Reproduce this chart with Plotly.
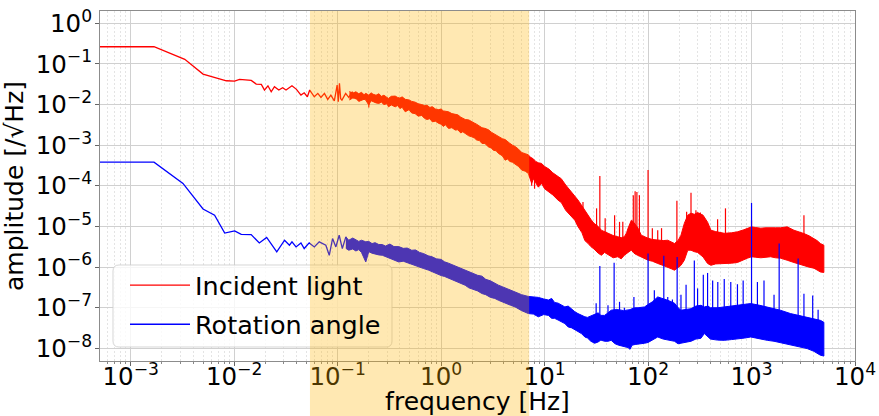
import plotly.graph_objects as go
import math

# ---------------- data ----------------
# thin low-frequency parts (Hz, amplitude)
red_line_f = [5.0e-4, 1.68e-3, 3.33e-3, 5.0e-3, 8.4e-3, 0.0101, 0.01127, 0.01462, 0.01633, 0.0183,
              0.01963, 0.0212, 0.0228, 0.0245, 0.027, 0.0294, 0.0317, 0.0362, 0.040, 0.0442,
              0.0475, 0.051, 0.0537, 0.0595, 0.0643, 0.069, 0.0745, 0.0802, 0.086, 0.0929,
              0.0989, 0.1015, 0.1041, 0.107, 0.110, 0.1195, 0.128, 0.1385, 0.1498, 0.1615]
red_line_a = [0.265, 0.265, 0.130, 0.0564, 0.0386, 0.0379, 0.0418, 0.0394, 0.0320, 0.0315,
              0.0228, 0.0290, 0.0207, 0.0275, 0.0228, 0.0259, 0.0228, 0.0290, 0.0237, 0.0171,
              0.0195, 0.0156, 0.0228, 0.0156, 0.0189, 0.0150, 0.0189, 0.0134, 0.0171, 0.0124,
              0.0302, 0.0117, 0.0333, 0.0140, 0.0129, 0.0189, 0.0150, 0.0207, 0.0142, 0.0178]

blue_line_f = [5.0e-4, 1.68e-3, 3.2e-3, 4.3e-3, 5.0e-3, 6.47e-3, 8.1e-3, 0.0101, 0.0117, 0.0146,
               0.0175, 0.0206, 0.0258, 0.0307, 0.0342, 0.0362, 0.0396, 0.0442, 0.0475, 0.0531,
               0.0595, 0.0664, 0.0769, 0.083, 0.0893, 0.0961, 0.1035, 0.111, 0.120, 0.128]
blue_line_a = [3.84e-4, 3.84e-4, 1.15e-4, 4.45e-5, 2.7e-5, 1.9e-5, 6.9e-6, 7.8e-6, 6.4e-6, 6.3e-6,
               3.94e-6, 5.4e-6, 2.37e-6, 4.6e-6, 3.46e-6, 4.18e-6, 3.15e-6, 3.94e-6, 2.87e-6, 3.94e-6,
               3.15e-6, 4.2e-6, 3.46e-6, 1.96e-6, 5.06e-6, 3.15e-6, 6.1e-6, 2.87e-6, 5.55e-6, 4.0e-6]

# dense noisy parts: upper / lower envelope of the band
red_band_f = [0.13, 0.14, 0.15, 0.16, 0.17, 0.18, 0.187, 0.2, 0.21, 0.22, 0.235, 0.25, 0.265, 0.28,
              0.3, 0.31, 0.33, 0.36, 0.38, 0.40, 0.42, 0.45, 0.49, 0.52, 0.56, 0.6, 0.65, 0.69,
              0.73, 0.78, 0.82, 0.88, 0.95, 1.0, 1.05, 1.1, 1.18, 1.27, 1.37, 1.45, 1.55, 1.62,
              1.71, 1.85, 1.98, 2.1, 2.2, 2.35, 2.48, 2.65, 2.87, 3.05, 3.2, 3.4, 3.58, 3.9,
              4.16, 4.4, 4.6, 4.9, 5.19, 5.6, 6.01, 6.5, 6.97, 7.2, 7.5, 7.8, 8.2, 8.7, 9.36,
              10.0, 11.0, 12.0, 13.5, 14.5, 16.0, 17.5, 19.6, 21.0, 23.0, 24.5, 26.4, 28, 30.0,
              33, 35.4, 38, 41, 46, 51, 55, 59, 62, 64, 67, 69, 72, 75, 80, 86, 93, 100, 110,
              124, 140, 155, 170, 180, 195, 208, 224, 242, 260, 280, 301, 320, 340, 376, 405,
              450, 545, 640, 731, 830, 912, 1000, 1100, 1230, 1380, 1530, 1700, 1910, 2210,
              2570, 2900, 3210, 3600, 4010, 4300, 4630, 5000]
red_band_hi = [2.1e-2, 1.9e-2, 2.07e-2, 1.85e-2, 2.0e-2, 1.75e-2, 1.89e-2, 1.71e-2, 1.95e-2, 1.8e-2,
               1.7e-2, 1.85e-2, 1.6e-2, 1.7e-2, 1.5e-2, 1.42e-2, 1.6e-2, 1.62e-2, 1.5e-2, 1.45e-2,
               1.55e-2, 1.35e-2, 1.3e-2, 1.2e-2, 1.15e-2, 1.05e-2, 1.0e-2, 9.5e-3, 9.6e-3, 8.5e-3,
               8.9e-3, 7.8e-3, 7.5e-3, 7.8e-3, 7.0e-3, 6.8e-3, 6.65e-3, 6.0e-3, 5.7e-3, 5.6e-3,
               4.9e-3, 4.7e-3, 4.3e-3, 4.2e-3, 3.9e-3, 3.5e-3, 3.3e-3, 3.0e-3, 2.7e-3, 2.6e-3,
               2.4e-3, 2.1e-3, 1.95e-3, 1.8e-3, 1.65e-3, 1.45e-3, 1.38e-3, 1.2e-3, 1.12e-3, 1.0e-3,
               9.3e-4, 8.0e-4, 6.6e-4, 6.2e-4, 5.8e-4, 5.2e-4, 4.9e-4, 4.6e-4, 4.0e-4, 3.7e-4,
               3.56e-4, 3.0e-4, 2.6e-4, 2.1e-4, 1.7e-4, 1.5e-4, 1.05e-4, 8.0e-5, 5.5e-5, 4.5e-5,
               3.2e-5, 2.5e-5, 1.8e-5, 1.5e-5, 1.2e-5, 1.0e-5, 8.1e-6, 7.5e-6, 6.7e-6, 6.0e-6,
               5.6e-6, 5.3e-6, 5.6e-6, 7.0e-6, 9.0e-6, 1.2e-5, 1.43e-5, 1.3e-5, 1.15e-5, 9.1e-6,
               6.1e-6, 5.5e-6, 5.15e-6, 4.8e-6, 4.6e-6, 4.5e-6, 4.6e-6, 4.2e-6, 3.81e-6, 4.5e-6,
               6.1e-6, 1.19e-5, 1.9e-5, 2.13e-5, 2.0e-5, 2.2e-5, 2.05e-5, 1.9e-5, 1.28e-5, 8.1e-6,
               7.5e-6, 6.8e-6, 7.0e-6, 7.4e-6, 8.2e-6, 9.1e-6, 9.8e-6, 9.4e-6, 9.1e-6, 9.3e-6,
               9.5e-6, 9.3e-6, 9.3e-6, 9.8e-6, 8.1e-6, 7.4e-6, 6.7e-6, 5.9e-6, 5.15e-6, 4.5e-6,
               3.81e-6, 3.46e-6]
red_band_lo = [1.3e-2, 1.45e-2, 1.42e-2, 1.2e-2, 1.25e-2, 1.35e-2, 1.29e-2, 9.7e-3, 1.25e-2, 1.2e-2,
               1.1e-2, 1.07e-2, 1.15e-2, 1.0e-2, 1.05e-2, 8.8e-3, 9.8e-3, 8.8e-3, 9.5e-3, 8.0e-3,
               8.6e-3, 6.65e-3, 7.5e-3, 6.2e-3, 6.0e-3, 5.2e-3, 5.4e-3, 4.6e-3, 4.3e-3, 4.5e-3,
               3.77e-3, 3.9e-3, 3.44e-3, 3.3e-3, 2.9e-3, 3.2e-3, 2.59e-3, 2.7e-3, 2.36e-3, 2.4e-3,
               2.0e-3, 2.15e-3, 1.95e-3, 1.7e-3, 1.61e-3, 1.5e-3, 1.35e-3, 1.3e-3, 1.11e-3, 1.1e-3,
               9.1e-4, 8.6e-4, 7.5e-4, 7.3e-4, 6.3e-4, 5.5e-4, 4.29e-4, 4.6e-4, 4.0e-4, 3.8e-4,
               3.4e-4, 3.0e-4, 2.44e-4, 2.3e-4, 2.02e-4, 1.6e-4, 1.15e-4, 1.5e-4, 1.2e-4, 9.3e-5,
               1.15e-4, 8.5e-5, 7.0e-5, 6.0e-5, 4.45e-5, 3.9e-5, 2.5e-5, 2.0e-5, 1.43e-5, 1.0e-5,
               7.0e-6, 4.5e-6, 3.8e-6, 3.2e-6, 2.8e-6, 2.2e-6, 1.96e-6, 2.3e-6, 2.0e-6, 1.7e-6,
               1.8e-6, 1.6e-6, 1.96e-6, 2.1e-6, 2.3e-6, 2.5e-6, 2.61e-6, 2.3e-6, 2.1e-6, 1.96e-6,
               1.78e-6, 1.6e-6, 1.48e-6, 1.4e-6, 1.23e-6, 1.1e-6, 1.0e-6, 9e-7, 8.4e-7, 1.0e-6,
               1.11e-6, 1.48e-6, 2.61e-6, 2.61e-6, 2.4e-6, 2.3e-6, 2.0e-6, 1.78e-6, 1.23e-6, 1.11e-6,
               1.2e-6, 1.23e-6, 1.25e-6, 1.3e-6, 1.5e-6, 1.66e-6, 1.8e-6, 1.75e-6, 1.7e-6, 1.75e-6,
               1.8e-6, 1.7e-6, 1.66e-6, 1.48e-6, 1.3e-6, 1.2e-6, 1.11e-6, 1.0e-6, 9.4e-7, 8.5e-7,
               7.6e-7, 7.4e-7]

blue_band_f = [0.12, 0.128, 0.14, 0.15, 0.16, 0.17, 0.187, 0.2, 0.215, 0.23, 0.25, 0.27, 0.29, 0.32,
               0.35, 0.39, 0.43, 0.47, 0.52, 0.566, 0.62, 0.68, 0.75, 0.817, 0.9, 1.0, 1.08, 1.18,
               1.28, 1.4, 1.55, 1.71, 1.85, 2.05, 2.25, 2.48, 2.7, 3.0, 3.3, 3.58, 3.9, 4.3, 4.7,
               5.19, 6.0, 6.97, 7.8, 8.7, 9.8, 10.9, 11.7, 12.5, 13.5, 15.7, 16.9, 18.3, 19.6, 21,
               22.7, 24.5, 26, 28, 30.5, 32.9, 35, 38, 41, 44, 48, 52, 58, 64, 67, 70, 75, 80,
               92.5, 100, 110, 124, 140, 155, 180, 195, 208, 230, 260, 290, 324, 350, 380, 400,
               470, 545, 640, 750, 860, 983, 1200, 1420, 1650, 1900, 2380, 2900, 3450, 4000,
               4630, 5000]
blue_band_hi = [5.5e-6, 4.6e-6, 5.2e-6, 4.8e-6, 4.3e-6, 4.6e-6, 4.2e-6, 4.3e-6, 3.8e-6, 4.0e-6,
                3.6e-6, 3.6e-6, 3.3e-6, 3.7e-6, 3.2e-6, 3.2e-6, 2.9e-6, 2.95e-6, 2.6e-6, 2.65e-6,
                2.3e-6, 2.15e-6, 1.9e-6, 1.8e-6, 1.6e-6, 1.55e-6, 1.35e-6, 1.25e-6, 1.15e-6, 1.02e-6,
                9.5e-7, 8.5e-7, 7.8e-7, 7.1e-7, 6.3e-7, 6.0e-7, 5.0e-7, 4.6e-7, 4.0e-7, 3.6e-7,
                3.3e-7, 3.0e-7, 2.7e-7, 2.5e-7, 2.1e-7, 1.9e-7, 1.85e-7, 1.8e-7, 1.65e-7, 1.55e-7,
                1.7e-7, 1.35e-7, 1.3e-7, 1.05e-7, 1.1e-7, 9.0e-8, 8.0e-8, 7.2e-8, 6.5e-8, 6.0e-8,
                5.8e-8, 6.2e-8, 7.0e-8, 7.5e-8, 6.5e-8, 6.5e-8, 7.5e-8, 8.7e-8, 9.0e-8, 9.0e-8,
                8.5e-8, 8.7e-8, 9.0e-8, 9.5e-8, 1.0e-7, 1.0e-7, 1.05e-7, 1.2e-7, 1.4e-7, 1.85e-7,
                1.7e-7, 1.53e-7, 1.3e-7, 1.0e-7, 8.7e-8, 9.0e-8, 9.5e-8, 1.1e-7, 1.15e-7, 1.05e-7,
                1.1e-7, 1.0e-7, 1.0e-7, 1.05e-7, 1.1e-7, 1.15e-7, 1.2e-7, 1.27e-7, 1.15e-7, 1.05e-7,
                9.5e-8, 8.7e-8, 7.2e-8, 6.5e-8, 5.9e-8, 5.3e-8, 4.9e-8, 4.4e-8]
blue_band_lo = [2.9e-6, 2.61e-6, 2.8e-6, 2.5e-6, 2.7e-6, 2.3e-6, 1.34e-6, 2.4e-6, 2.2e-6, 2.1e-6,
                2.0e-6, 1.96e-6, 1.8e-6, 1.6e-6, 1.5e-6, 1.34e-6, 1.4e-6, 1.3e-6, 1.2e-6, 1.11e-6,
                1.0e-6, 9.2e-7, 8.5e-7, 7.6e-7, 7.0e-7, 6.2e-7, 5.9e-7, 5.24e-7, 4.9e-7, 4.3e-7,
                4.0e-7, 3.58e-7, 3.1e-7, 2.8e-7, 2.6e-7, 2.24e-7, 2.1e-7, 1.8e-7, 1.7e-7, 1.53e-7,
                1.4e-7, 1.25e-7, 1.15e-7, 1.05e-7, 8.5e-8, 7.2e-8, 7.0e-8, 6.0e-8, 6.8e-8, 6.5e-8,
                5.5e-8, 5.5e-8, 5.0e-8, 4.08e-8, 3.37e-8, 3.2e-8, 2.8e-8, 2.6e-8, 2.32e-8, 1.91e-8,
                1.8e-8, 1.5e-8, 1.34e-8, 1.44e-8, 1.6e-8, 1.5e-8, 1.5e-8, 1.58e-8, 1.3e-8, 1.2e-8,
                1.1e-8, 1.05e-8, 9.5e-9, 1.2e-8, 1.25e-8, 1.3e-8, 1.34e-8, 1.4e-8, 1.6e-8, 1.91e-8,
                1.7e-8, 1.58e-8, 1.5e-8, 1.3e-8, 1.34e-8, 1.4e-8, 1.5e-8, 1.7e-8, 1.77e-8, 2.32e-8,
                1.9e-8, 1.7e-8, 1.6e-8, 1.58e-8, 1.65e-8, 1.7e-8, 1.8e-8, 1.91e-8, 1.7e-8, 1.58e-8,
                1.5e-8, 1.4e-8, 1.19e-8, 1.1e-8, 9.9e-9, 8.5e-9, 6.8e-9, 6.5e-9]

# narrow spectral lines (Hz, bottom, top)
red_spike_f = [0.2, 7.5, 8.0, 23.5, 31.8, 34.2, 38.5, 47.5, 53, 57, 72, 75, 78, 82.5, 100, 110,
               124, 135, 190, 236, 260, 290, 320, 470, 560, 1000, 3210]
red_spike_lo = [8.5e-3, 1.0e-4, 8.5e-5, 2.0e-5, 8e-6, 6e-6, 5e-6, 4e-6, 4e-6, 4e-6, 8e-6, 8e-6,
                7e-6, 5e-6, 4e-6, 4e-6, 3e-6, 3e-6, 3e-6, 1e-5, 1e-5, 1e-5, 1e-5, 5e-6, 5e-6,
                5e-6, 4e-6]
red_spike_hi = [1.3e-2, 2.5e-4, 2.5e-4, 4.0e-5, 2.8e-5, 1.74e-4, 1.6e-5, 1.9e-5, 1.3e-5, 1.3e-5,
                5.9e-5, 7.4e-5, 7.1e-5, 5.9e-5, 2.44e-4, 9e-6, 8.1e-6, 9.1e-6, 4.3e-5, 2.3e-5,
                6.8e-5, 2.5e-5, 2.2e-5, 1.5e-5, 2.8e-5, 1.43e-5, 1.9e-5]

blue_spike_f = [31.5, 34.2, 41, 47, 53, 59, 73, 100, 115, 142, 155, 172, 191, 208, 233, 280, 301,
                342, 376, 421, 472, 545, 630, 731, 830, 1000, 1140, 1320, 1650, 1850, 2820, 3210,
                3900, 4400]
blue_spike_lo = [4e-8] * 7 + [5e-8] * 22 + [4e-8] + [3e-8] * 4
blue_spike_hi = [1.3e-7, 1.07e-6, 1.15e-7, 1.29e-6, 1.4e-7, 1.0e-7, 1.85e-7, 2.16e-6, 2.7e-7, 1.9e-6,
                 1.85e-7, 1.6e-7, 1.78e-6, 2.1e-7, 3.7e-7, 1.45e-6, 3.0e-7, 6.5e-7, 7.2e-7, 4.7e-7,
                 4.3e-7, 5.1e-7, 4.3e-7, 3.8e-7, 4.7e-7, 3.8e-5, 4.3e-7, 4.7e-7, 2.1e-7, 3.8e-6,
                 1.63e-6, 2.2e-7, 2.0e-7, 9e-8]

series_names = ["Incident light", "Rotation angle"]
x_tickvals = [1e-3, 1e-2, 1e-1, 1e0, 1e1, 1e2, 1e3, 1e4]
x_ticktext = ["10<sup>−3</sup>", "10<sup>−2</sup>", "10<sup>−1</sup>", "10<sup>0</sup>",
              "10<sup>1</sup>", "10<sup>2</sup>", "10<sup>3</sup>", "10<sup>4</sup>"]
y_tickvals = [1e-8, 1e-7, 1e-6, 1e-5, 1e-4, 1e-3, 1e-2, 1e-1, 1e0]
y_ticktext = ["10<sup>−8</sup>", "10<sup>−7</sup>", "10<sup>−6</sup>", "10<sup>−5</sup>",
              "10<sup>−4</sup>", "10<sup>−3</sup>", "10<sup>−2</sup>", "10<sup>−1</sup>",
              "10<sup>0</sup>"]
span_f = [0.054, 7.1]          # highlighted band (Hz)
x_lim = [5.05e-4, 1.0e4]
y_lim = [4.9e-9, 2.01]

# ---------------- figure ----------------
RED, BLUE = "#ff0000", "#0000ff"
FONT = "DejaVu Sans"
W, H = 879, 416
ML, MR, MT, MB = 100, 24, 11, 55

fig = go.Figure()


def add_series(line_f, line_a, band_f, band_hi, band_lo, sp_f, sp_lo, sp_hi, color, name):
    fig.add_trace(go.Scatter(x=band_f + band_f[::-1], y=band_hi + band_lo[::-1],
                             fill="toself", fillcolor=color, mode="lines",
                             line=dict(color=color, width=1), showlegend=False,
                             hoverinfo="skip"))
    sx, sy = [], []
    for f, lo, hi in zip(sp_f, sp_lo, sp_hi):
        sx += [f, f, None]
        sy += [lo, hi, None]
    fig.add_trace(go.Scatter(x=sx, y=sy, mode="lines", line=dict(color=color, width=1.2),
                             showlegend=False, hoverinfo="skip"))
    fig.add_trace(go.Scatter(x=line_f, y=line_a, mode="lines", name=name,
                             legendgroup=name, line=dict(color=color, width=1.3)))


add_series(red_line_f, red_line_a, red_band_f, red_band_hi, red_band_lo,
           red_spike_f, red_spike_lo, red_spike_hi, RED, series_names[0])
add_series(blue_line_f, blue_line_a, blue_band_f, blue_band_hi, blue_band_lo,
           blue_spike_f, blue_spike_lo, blue_spike_hi, BLUE, series_names[1])

xr = [math.log10(x_lim[0]), math.log10(x_lim[1])]
yr = [math.log10(y_lim[0]), math.log10(y_lim[1])]

minor_x = [k * 10 ** e for e in range(-4, 4) for k in range(2, 10)]

axis_common = dict(type="log", showline=True, mirror=True, linecolor="#8c8c8c", linewidth=1,
                   ticks="outside", ticklen=4, tickcolor="#666666", tickmode="array",
                   showgrid=True, gridcolor="#d0d0d0", gridwidth=1, zeroline=False,
                   tickfont=dict(family=FONT, size=24.5, color="#000000"))

fig.update_xaxes(range=xr, tickvals=x_tickvals, ticktext=x_ticktext, ticklabelstandoff=-10,
                 title=dict(text="frequency [Hz]", font=dict(family=FONT, size=25, color="#000"),
                            standoff=12),
                 minor=dict(tickmode="array", tickvals=minor_x, ticks="outside", ticklen=2,
                            tickcolor="#888888", showgrid=True, gridcolor="#e4e4e4",
                            griddash="2px,2px", gridwidth=1),
                 **axis_common)
fig.update_yaxes(range=yr, tickvals=y_tickvals, ticktext=y_ticktext, ticklabelstandoff=-2,
                 title=dict(text="amplitude [/√Hz]", font=dict(family=FONT, size=25, color="#000"),
                            standoff=6),
                 **axis_common)

pw = W - ML - MR
ph = H - MT - MB


def px2paper(x, y):
    return (x - ML) / pw, (H - MB - y) / ph


# legend frame (drawn as a shape so the highlighted band lies over it)
bx0, by0 = px2paper(113, 265)
bx1, by1 = px2paper(392, 347)
rx, ry = 6 / pw, 6 / ph
legend_path = (f"M{bx0 + rx},{by0} L{bx1 - rx},{by0} Q{bx1},{by0} {bx1},{by0 - ry} "
               f"L{bx1},{by1 + ry} Q{bx1},{by1} {bx1 - rx},{by1} L{bx0 + rx},{by1} "
               f"Q{bx0},{by1} {bx0},{by1 + ry} L{bx0},{by0 - ry} Q{bx0},{by0} {bx0 + rx},{by0} Z")
fig.add_shape(type="path", path=legend_path, xref="paper", yref="paper", layer="above",
              fillcolor="rgba(255,255,255,0.8)", line=dict(color="rgba(204,204,204,0.8)", width=1))

# highlighted frequency band, spanning down through the axis labels
sx0 = (math.log10(span_f[0]) - xr[0]) / (xr[1] - xr[0])
sx1 = (math.log10(span_f[1]) - xr[0]) / (xr[1] - xr[0])
fig.add_shape(type="rect", xref="paper", yref="paper", x0=sx0, x1=sx1, y0=-MB / ph - 0.01, y1=1,
              fillcolor="rgba(255,180,0,0.3)", line=dict(width=0), layer="above")

fig.update_layout(
    width=W, height=H, margin=dict(l=ML, r=MR, t=MT, b=MB, autoexpand=False),
    paper_bgcolor="white", plot_bgcolor="white",
    font=dict(family=FONT, size=23, color="#000"),
    showlegend=True,
    legend=dict(x=px2paper(125, 0)[0], y=px2paper(0, 262)[1], xanchor="left", yanchor="top",
                bgcolor="rgba(0,0,0,0)", borderwidth=0, itemwidth=60,
                tracegroupgap=3, font=dict(family=FONT, size=25.5, color="#000")),
)

fig.write_html("out.html")
